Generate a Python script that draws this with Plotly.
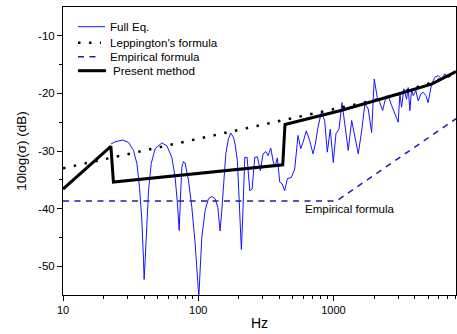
import plotly.graph_objects as go

# ---- data ----
full_f = [22.6, 24.3, 27.6, 30.5, 33.2, 35.2, 36.8, 38.3, 39.4, 39.8,
          40.5, 41.7, 42.9, 44.9, 48.0, 53.8, 58.6, 63.8, 67.5, 70.2, 72.3,
          73.9, 75.7, 77.7, 80.0, 84.7, 89.7, 94.9, 99.3, 101.0,
          103.3, 106.3, 112.5, 118.9, 126.0, 133.3, 139.6, 145.1,
          149.4, 153.5, 159.9, 167.1, 174.1, 182.0, 187.3, 194.8, 200.5, 205.7, 208.5,
          212.8, 216.4, 220.9, 229.7, 240.5, 250.1, 261.8, 273.6, 288.0, 301.6,
          315.7, 328.3, 343.8, 357.5, 368.0, 384.6, 400.6, 416.5, 436.1, 455.8,
          487.9, 516.9, 546.8, 572.5, 595.3, 629.7, 667.2, 705.8, 733.9, 768.3,
          812.7, 861.0, 900.0, 947.0, 996.6, 1043.5, 1098, 1156, 1216, 1286,
          1363, 1441, 1525, 1616, 1709, 1807, 1915, 2002, 2107, 2204, 2309,
          2401, 2540, 2691, 2846, 3010, 3098, 3189, 3316, 3472, 3567, 3673,
          3781, 3885, 4067, 4230, 4429, 4606, 4823, 5012, 5313, 5618, 5943,
          6298, 6660, 7042, 7464, 7893]
full_db = [-28.8, -28.4, -28.1, -28.5, -29.9, -32.2, -36.3, -42.1, -49.0, -52.3,
           -49.0, -42.1, -36.9, -32.2, -29.6, -28.6, -29.1, -31.1, -34.6, -39.2, -43.8,
           -38.0, -32.8, -31.8, -32.1, -35.1, -39.8, -46.1, -51.9, -55.4,
           -50.7, -45.0, -40.3, -38.3, -37.9, -38.3, -39.8, -43.9,
           -40.3, -35.7, -30.5, -27.9, -26.9, -27.6, -28.8, -31.7, -38.6, -43.8, -47.1,
           -42.1, -35.1, -31.1, -31.1, -36.9, -36.6, -31.1, -31.0, -33.4, -30.5,
           -30.1, -30.8, -29.5, -31.7, -32.8, -31.2, -35.4, -35.7, -36.9, -34.8,
           -34.6, -33.1, -27.3, -29.6, -28.5, -26.5, -28.2, -30.5, -28.8, -25.9,
           -23.3, -24.7, -30.2, -26.2, -32.0, -27.0, -26.2, -21.6, -25.9, -29.9,
           -24.7, -27.3, -30.5, -26.5, -21.8, -22.7, -26.8, -17.5, -20.7, -21.6, -23.0,
           -21.3, -20.4, -22.1, -23.6, -25.0, -20.1, -22.4, -19.2, -21.0, -19.0, -23.0,
           -19.2, -20.4, -19.5, -21.3, -20.1, -19.8, -20.4, -21.6, -18.4, -17.2, -16.9,
           -17.5, -16.6, -17.2, -16.6, -16.5]

lepp_f = [10, 100, 1000, 2000, 3000, 4000, 5000, 6000, 7000, 8050]
lepp_db = [-33.0, -27.9, -22.8, -21.2, -20.1, -19.0, -18.3, -17.7, -17.1, -16.4]

emp_f = [10, 1050, 8050]
emp_db = [-38.7, -38.7, -24.4]

pres_f = [10, 22.6, 23.6, 421.7, 438, 1117, 3010, 5313, 8050]
pres_db = [-36.6, -29.2, -35.4, -32.4, -25.4, -23.0, -20.1, -18.4, -16.2]

series_names = ["Full Eq.", "Leppington's formula", "Empirical formula", "Present method"]

x_tick_vals = [10, 100, 1000]
x_tick_text = ["10", "100", "1000"]
y_tick_vals = [-10, -20, -30, -40, -50]
y_tick_text = ["-10", "-20", "-30", "-40", "-50"]

FONT = "Arial, 'Liberation Sans', sans-serif"
W, H = 457, 334
ML, MR, MT, MB = 63, 1, 7, 39
PW, PH = W - ML - MR, H - MT - MB

styles = [
    dict(color="#1414ff", width=1),
    dict(color="black", width=2.5, dash="2.5px,8.5px"),
    dict(color="#1c1caa", width=1.5, dash="6px,5.5px"),
    dict(color="black", width=3),
]
series_x = [full_f, lepp_f, emp_f, pres_f]
series_y = [full_db, lepp_db, emp_db, pres_db]

fig = go.Figure()
for nm, xs, ys, st in zip(series_names, series_x, series_y, styles):
    fig.add_trace(go.Scatter(x=xs, y=ys, mode="lines", name=nm, line=st, showlegend=False))


def xp(px):
    return (px - ML) / PW


def yp(py):
    return (MT + PH - py) / PH


# legend drawn in paper coordinates (compact spacing as in the reference)
leg_rows = [26.7, 42.7, 56.7, 70.7]
leg_x1 = [105, 101, 98, 106]
leg_tx = [108, 108, 108, 111]
for nm, st, ry, x1, tx in zip(series_names, styles, leg_rows, leg_x1, leg_tx):
    fig.add_shape(type="line", xref="paper", yref="paper",
                  x0=xp(78), x1=xp(x1), y0=yp(ry), y1=yp(ry), line=st)
    fig.add_annotation(x=xp(tx), y=yp(ry), xref="paper", yref="paper", text=nm,
                       showarrow=False, xanchor="left", yanchor="middle",
                       font=dict(family=FONT, size=11.6, color="black"))

fig.add_annotation(x=3.12, y=-40.0, xref="x", yref="y", text="Empirical formula",
                   showarrow=False, font=dict(family=FONT, size=11.5, color="black"))

fig.update_layout(
    width=W, height=H,
    margin=dict(l=ML, r=MR, t=MT, b=MB, autoexpand=False),
    paper_bgcolor="white", plot_bgcolor="white",
    font=dict(family=FONT, color="black"),
    showlegend=False,
    xaxis=dict(type="log", range=[1, 3.906],
               tickvals=x_tick_vals, ticktext=x_tick_text,
               ticks="outside", ticklen=5, tickwidth=1, tickcolor="black",
               showline=True, linecolor="black", linewidth=1, mirror=True,
               showgrid=False, zeroline=False,
               tickfont=dict(family=FONT, size=11),
               minor=dict(ticks="outside", ticklen=3, tickcolor="black", dtick="D1",
                          showgrid=False),
               title=dict(text="Hz", font=dict(family=FONT, size=14), standoff=2)),
    yaxis=dict(range=[-55, -5],
               tickvals=y_tick_vals, ticktext=y_tick_text,
               ticks="outside", ticklen=5, tickwidth=1, tickcolor="black",
               showline=True, linecolor="black", linewidth=1, mirror=True,
               showgrid=False, zeroline=False,
               tickfont=dict(family=FONT, size=11.5),
               minor=dict(ticks="outside", ticklen=3, tickcolor="black",
                          tickvals=[-15, -25, -35, -45], showgrid=False),
               title=dict(text="10log(σ) (dB)", font=dict(family=FONT, size=13.5), standoff=8)),
)

fig.write_html("out.html",
               config={"displayModeBar": False},
               post_script="document.body.style.margin='0';document.body.style.overflow='hidden';")
